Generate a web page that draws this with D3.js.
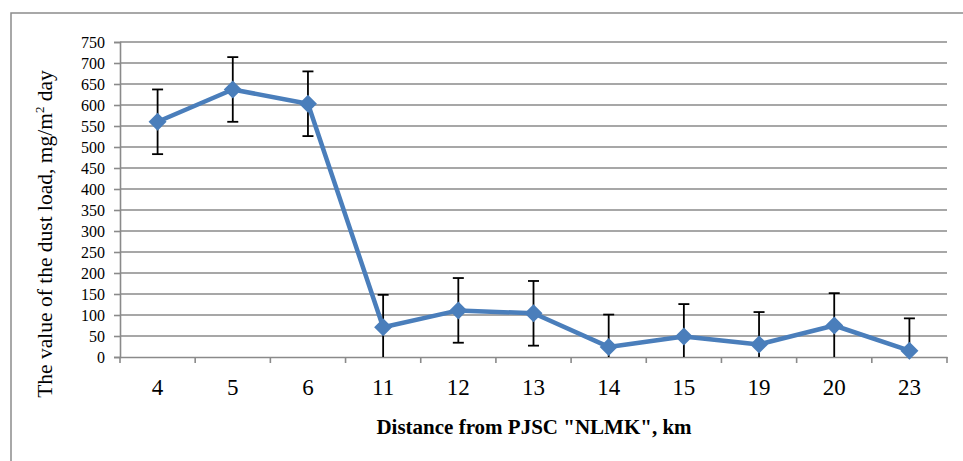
<!DOCTYPE html>
<html><head><meta charset="utf-8">
<script src="https://cdn.jsdelivr.net/npm/d3@7"></script>
<style>
html,body{margin:0;padding:0;background:#fff;}
svg, svg text{font-family:'Liberation Serif','Times New Roman','DejaVu Serif',serif !important;}
</style></head>
<body>
<svg id="chart" width="963" height="461"></svg>
<script>
const categories = ["4","5","6","11","12","13","14","15","19","20","23"];
const values = [560, 637, 603, 71, 111, 104, 24, 49, 30, 75, 15];
const errors = [77, 77, 77, 77, 77, 77, 77, 77, 77, 77, 77];
const yTicks = [0,50,100,150,200,250,300,350,400,450,500,550,600,650,700,750];
const xTitle = 'Distance from PJSC "NLMK", km';

const svg = d3.select("#chart");
const L = 120, R = 947, T = 42, B = 357;
const grid = "#8a8a8a";

// outer border
svg.append("rect").attr("x",11).attr("y",13).attr("width",970).attr("height",470)
  .attr("fill","none").attr("stroke","#8c8c8c").attr("stroke-width",1.5);

const x = d3.scaleBand().domain(categories).range([L,R]).padding(0);
const y = d3.scaleLinear().domain([0,750]).range([B,T]);

// gridlines
svg.append("g").selectAll("line").data(yTicks.filter(d=>d>0)).join("line")
  .attr("x1",L).attr("x2",R).attr("y1",d=>y(d)).attr("y2",d=>y(d))
  .attr("stroke",grid).attr("stroke-width",1.6);

// y axis
const yAxis = svg.append("g").attr("transform",`translate(${L},0)`)
  .call(d3.axisLeft(y).tickValues(yTicks).tickSize(6).tickPadding(9));
yAxis.attr("font-family",null);
yAxis.select(".domain").attr("stroke",grid).attr("stroke-width",1.6);
yAxis.selectAll(".tick line").attr("stroke",grid).attr("stroke-width",1.6);
yAxis.selectAll("text").attr("font-size",16).attr("fill","#000");

// x axis
const xAxis = svg.append("g").attr("transform",`translate(0,${B})`)
  .call(d3.axisBottom(x).tickSize(0).tickPadding(22));
xAxis.attr("font-family",null);
xAxis.select(".domain").attr("stroke",grid).attr("stroke-width",1.6);
xAxis.selectAll("text").attr("font-size",23).attr("fill","#000");
// x tick marks at band boundaries
const bounds = categories.map(c=>x(c)).concat([R]);
svg.append("g").selectAll("line").data(bounds).join("line")
  .attr("x1",d=>d).attr("x2",d=>d).attr("y1",B).attr("y2",B+6)
  .attr("stroke",grid).attr("stroke-width",1.6);

// clip for error bars
svg.append("clipPath").attr("id","plotclip").append("rect")
  .attr("x",L-20).attr("y",T-30).attr("width",R-L+40).attr("height",B-T+30);

const cx = c => x(c) + x.bandwidth()/2;
const data = categories.map((c,i)=>({c, v:values[i], e:errors[i]}));

// error bars
const eb = svg.append("g").attr("clip-path","url(#plotclip)");
eb.selectAll("line.v").data(data).join("line").attr("class","v")
  .attr("x1",d=>cx(d.c)).attr("x2",d=>cx(d.c))
  .attr("y1",d=>y(d.v+d.e)).attr("y2",d=>y(d.v-d.e))
  .attr("stroke","#000").attr("stroke-width",1.8);
eb.selectAll("line.t").data(data).join("line").attr("class","t")
  .attr("x1",d=>cx(d.c)-5.5).attr("x2",d=>cx(d.c)+5.5)
  .attr("y1",d=>y(d.v+d.e)).attr("y2",d=>y(d.v+d.e))
  .attr("stroke","#000").attr("stroke-width",1.8);
eb.selectAll("line.b").data(data.filter(d=>d.v-d.e>0)).join("line").attr("class","b")
  .attr("x1",d=>cx(d.c)-5.5).attr("x2",d=>cx(d.c)+5.5)
  .attr("y1",d=>y(d.v-d.e)).attr("y2",d=>y(d.v-d.e))
  .attr("stroke","#000").attr("stroke-width",1.8);

// line
const line = d3.line().x(d=>cx(d.c)).y(d=>y(d.v));
svg.append("path").datum(data).attr("d",line).attr("fill","none")
  .attr("stroke","#4a7ebb").attr("stroke-width",4.5).attr("stroke-linejoin","round");

// markers
svg.append("g").selectAll("path").data(data).join("path")
  .attr("transform",d=>`translate(${cx(d.c)},${y(d.v)})`)
  .attr("d","M0,-9L9,0L0,9L-9,0Z").attr("fill","#4a7ebb");

// axis titles
svg.append("text").attr("x",534).attr("y",434).attr("text-anchor","middle")
  .attr("font-size",21).attr("font-weight","bold").attr("fill","#000").text(xTitle);

const yt = svg.append("text").attr("transform","translate(52,234) rotate(-90)")
  .attr("text-anchor","middle").attr("font-size",21.5).attr("fill","#000");
yt.append("tspan").text("The value of the dust load, mg/m");
yt.append("tspan").attr("font-size",13).attr("dy",-8).text("2");
yt.append("tspan").attr("dy",8).text(" day");
</script>
</body></html>
